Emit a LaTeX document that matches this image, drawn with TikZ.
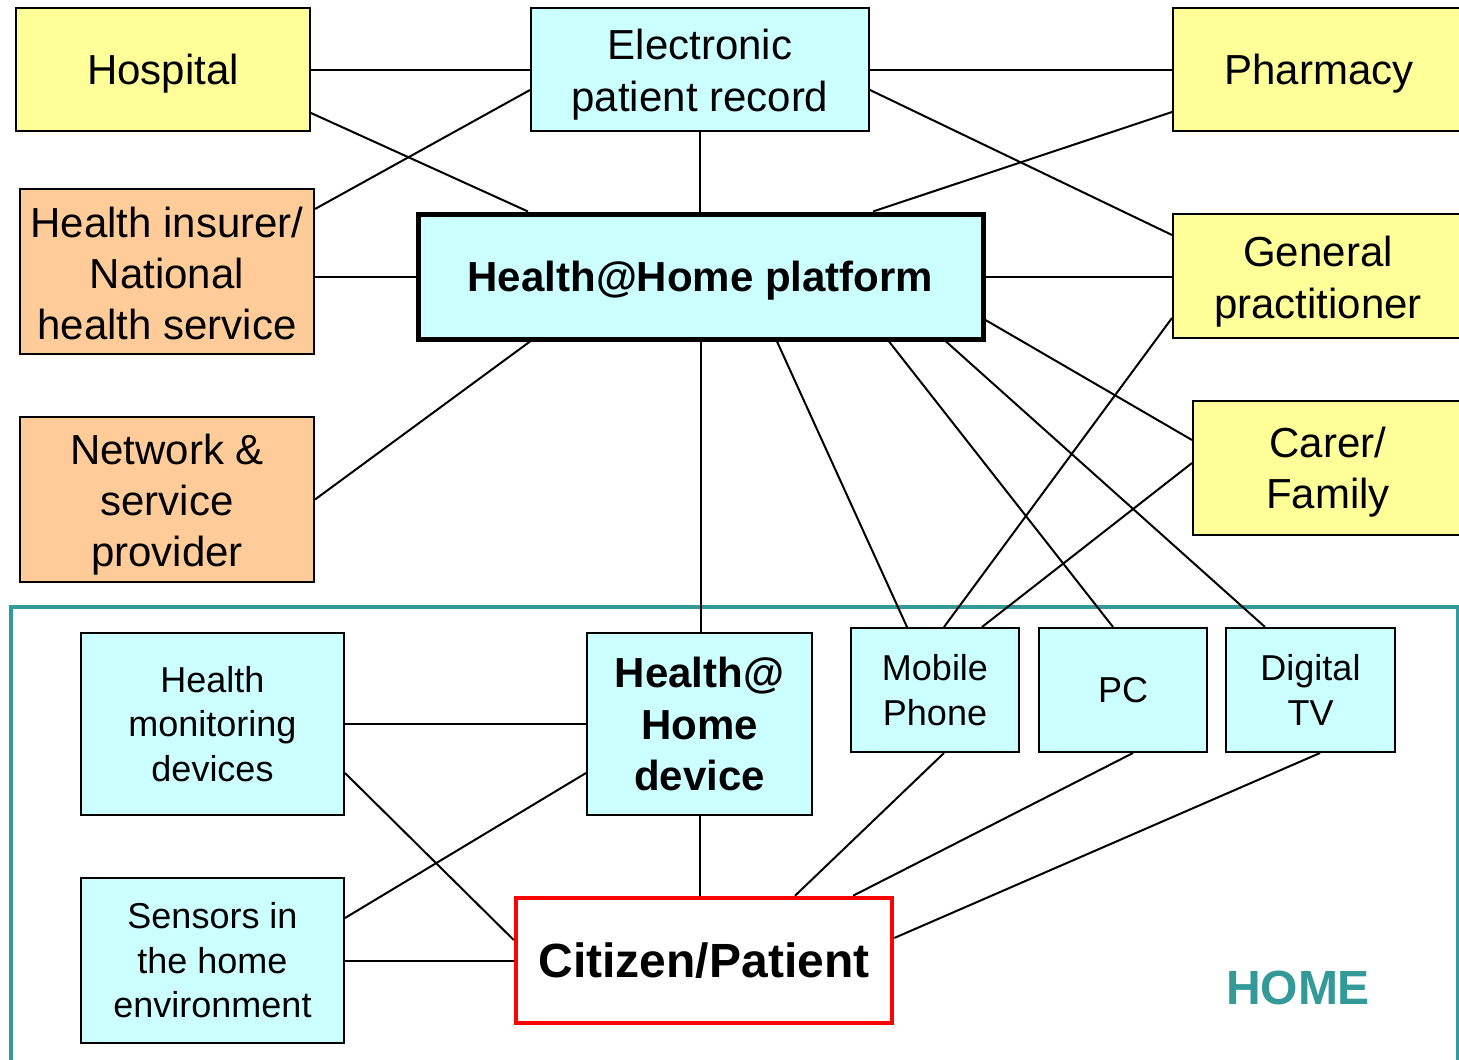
\documentclass[tikz,border=0pt]{standalone}
\usepackage{fontspec}
\setmainfont{Liberation Sans}
\definecolor{pyellow}{HTML}{FFFF99}
\definecolor{pcyan}{HTML}{CCFFFF}
\definecolor{porange}{HTML}{FFCC99}
\definecolor{pteal}{HTML}{339999}
\definecolor{pred}{HTML}{FF0000}
\newcommand\tup[1]{\rule{0pt}{#1pt}}
\tikzset{
  box/.style={draw=black, line width=2pt, inner sep=0pt, align=center, font=\fontsize{42}{51}\selectfont},
  ybox/.style={box, fill=pyellow},
  obox/.style={box, fill=porange},
  cbox/.style={box, fill=pcyan},
  dbox/.style={box, fill=pcyan, font=\fontsize{36}{44.5}\selectfont},
  conn/.style={draw=black, line width=2pt},
}
\begin{document}
\begin{tikzpicture}[x=1pt,y=-1pt]
\useasboundingbox (0,0) rectangle (1459,1060);
\clip (0,0) rectangle (1459,1060);
% HOME frame
\draw[pteal, line width=4pt] (1460,607) -- (11,607) -- (11,1070);
\draw[pteal, line width=4pt] (1458,607) -- (1458,1070);
% nodes
\node[ybox, minimum width=294pt, minimum height=123pt] (hosp) at (163,69.5) {\tup{38}Hospital};
\node[cbox, minimum width=338pt, minimum height=123pt, font=\fontsize{42}{52}\selectfont] (epr) at (700,69.5) {\tup{41}Electronic\\patient record};
\node[ybox, minimum width=290pt, minimum height=123pt] (pharm) at (1318,69.5) {\tup{38}\hspace*{2pt}Pharmacy};
\node[obox, minimum width=294pt, minimum height=165pt] (ins) at (167,271.5) {\tup{34}Health insurer/\\National\\health service};
\node[cbox, line width=5pt, minimum width=565pt, minimum height=125pt, font=\bfseries\fontsize{42}{51}\selectfont] (plat) at (700.5,276.5) {\tup{38}Health@Home platform};
\node[ybox, minimum width=290pt, minimum height=124pt, font=\fontsize{42}{52}\selectfont] (gp) at (1318,276) {\tup{41}General\\practitioner};
\node[obox, minimum width=294pt, minimum height=165pt] (net) at (167,499.5) {\tup{41}Network \&\\service\\provider};
\node[ybox, minimum width=270pt, minimum height=134pt] (carer) at (1328,468) {\tup{38}Carer/\\Family};
\node[dbox, minimum width=263pt, minimum height=182pt] (hmd) at (212.5,724) {Health\\monitoring\\devices};
\node[cbox, minimum width=225pt, minimum height=182pt, font=\bfseries\fontsize{42}{51.5}\selectfont] (hhd) at (699.5,724) {Health@\\Home\\device};
\node[dbox, minimum width=168pt, minimum height=124pt] (mob) at (935,690) {Mobile\\Phone};
\node[dbox, minimum width=168pt, minimum height=124pt] (pc) at (1123,690) {PC};
\node[dbox, minimum width=169pt, minimum height=124pt] (tv) at (1310.5,690) {Digital\\TV};
\node[dbox, minimum width=263pt, minimum height=165pt] (sens) at (212.5,960.5) {Sensors in\\the home\\environment};
\node[box, draw=pred, fill=white, line width=4.5pt, minimum width=376pt, minimum height=125pt, font=\bfseries\fontsize{48}{56}\selectfont] (cit) at (704,960.5) {Citizen/Patient};
\node[text=pteal, font=\bfseries\fontsize{48}{56}\selectfont, inner sep=0pt] (home) at (1298,988) {HOME};
% connectors
\draw[conn] (hosp.east) -- (epr.west);
\draw[conn] ([yshift=-43.5pt]hosp.east) -- ([xshift=-172.5pt]plat.north);
\draw[conn] ([yshift=62.5pt]ins.east) -- ([yshift=-20.5pt]epr.west);
\draw[conn] (ins.east |- plat.west) -- (plat.west);
\draw[conn] (epr.south) -- (epr.south |- plat.north);
\draw[conn] ([yshift=-20.5pt]epr.east) -- ([yshift=41pt]gp.west);
\draw[conn] (epr.east) -- (pharm.west);
\draw[conn] ([yshift=-42.5pt]pharm.west) -- ([xshift=172.5pt]plat.north);
\draw[conn] (plat.east) -- (plat.east -| gp.west);
\draw[conn] ([yshift=-43.5pt]plat.east) -- ([yshift=28pt]carer.west);
\draw[conn] (net.east) -- ([xshift=-170.5pt]plat.south);
\draw[conn] (plat.south) -- (plat.south |- hhd.north);
\draw[conn] ([xshift=76.5pt]plat.south) -- ([xshift=-28pt]mob.north);
\draw[conn] ([xshift=188.5pt]plat.south) -- ([xshift=-10pt]pc.north);
\draw[conn] ([xshift=245.5pt]plat.south) -- ([xshift=-45.5pt]tv.north);
\draw[conn] ([yshift=-42pt]gp.west) -- ([xshift=9pt]mob.north);
\draw[conn] ([yshift=5pt]carer.west) -- ([xshift=47pt]mob.north);
\draw[conn] (hmd.east) -- (hhd.west);
\draw[conn] ([yshift=-49pt]hmd.east) -- ([yshift=20.5pt]cit.west);
\draw[conn] ([yshift=42.5pt]sens.east) -- ([yshift=-49pt]hhd.west);
\draw[conn] (sens.east) -- (cit.west);
\draw[conn] (hhd.south) -- (hhd.south |- cit.north);
\draw[conn] ([xshift=9pt]mob.south) -- ([xshift=91pt]cit.north);
\draw[conn] ([xshift=10pt]pc.south) -- ([xshift=149pt]cit.north);
\draw[conn] ([xshift=9.5pt]tv.south) -- ([yshift=22.5pt]cit.east);
\end{tikzpicture}
\end{document}
